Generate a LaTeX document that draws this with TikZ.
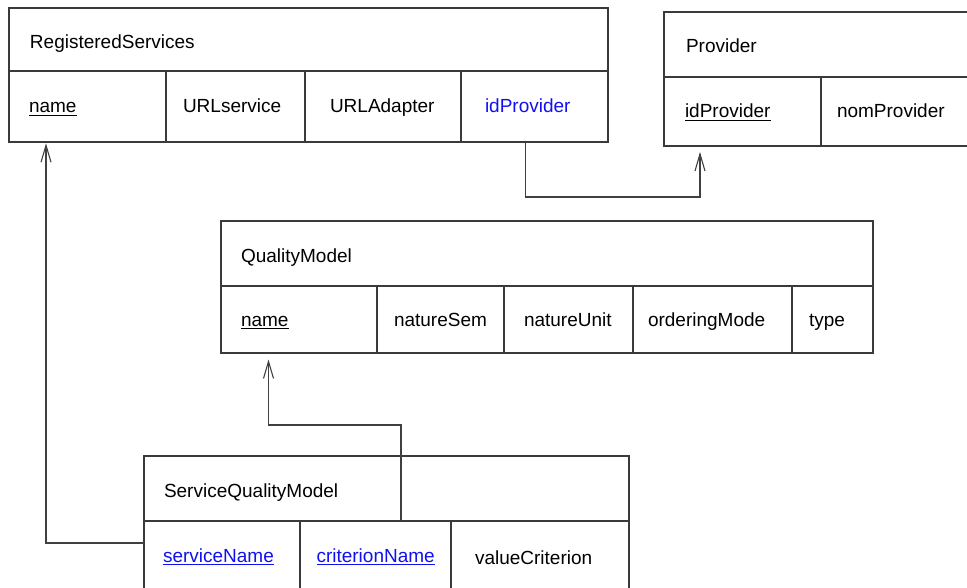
\documentclass[tikz,border=0pt]{standalone}
\usepackage{fontspec}
\setmainfont{Liberation Sans}
\usetikzlibrary{arrows.meta}
\definecolor{boxc}{HTML}{3A3A3A}
\definecolor{linec}{HTML}{404040}
\definecolor{keyblue}{HTML}{1010F0}
\begin{document}
\begin{tikzpicture}[x=1pt,y=-1pt,
  box/.style={draw=boxc, line width=1.3pt, rectangle, inner sep=0pt, outer sep=0pt, anchor=north west},
  lbl/.style={inner sep=0pt, outer sep=0pt, anchor=base west, font=\fontsize{19}{22}\selectfont},
  keylbl/.style={lbl, text=keyblue},
  conn/.style={draw=linec, line width=1.1pt},
  arr/.style={conn, -{Straight Barb[length=17pt,width=10pt,line width=1.1pt]}}]
\useasboundingbox (0,0) rectangle (967,588);
% RegisteredServices
\node[box, minimum width=599pt, minimum height=63pt] (rs) at (9,8) {};
\node[box, minimum width=157pt, minimum height=71pt] (rsName) at (9,71) {};
\node[box, minimum width=139pt, minimum height=71pt] (rsURLs) at (166,71) {};
\node[box, minimum width=156pt, minimum height=71pt] (rsURLa) at (305,71) {};
\node[box, minimum width=147pt, minimum height=71pt] (rsIdp) at (461,71) {};
\node[lbl] (rsT) at (30,49) {RegisteredServices};
\node[lbl] (rsNameT) at (29,113) {name};
\node[lbl] (rsURLsT) at (183,113) {URLservice};
\node[lbl] (rsURLaT) at (330,113) {URLAdapter};
\node[keylbl] (rsIdpT) at (485,113) {idProvider};
% Provider
\node[box, minimum width=320pt, minimum height=65pt] (pv) at (664,12) {};
\node[box, minimum width=157pt, minimum height=69pt] (pvId) at (664,77) {};
\node[box, minimum width=163pt, minimum height=69pt] (pvNom) at (821,77) {};
\node[lbl] (pvT) at (686,53) {Provider};
\node[lbl] (pvIdT) at (685,118) {idProvider\ };
\node[lbl] (pvNomT) at (837,118) {nomProvider};
% QualityModel
\node[box, minimum width=652pt, minimum height=65pt] (qm) at (221,221) {};
\node[box, minimum width=156pt, minimum height=67pt] (qmName) at (221,286) {};
\node[box, minimum width=127pt, minimum height=67pt] (qmSem) at (377,286) {};
\node[box, minimum width=129pt, minimum height=67pt] (qmUnit) at (504,286) {};
\node[box, minimum width=159pt, minimum height=67pt] (qmOrd) at (633,286) {};
\node[box, minimum width=81pt, minimum height=67pt] (qmType) at (792,286) {};
\node[lbl] (qmT) at (241,262) {QualityModel};
\node[lbl] (qmNameT) at (241,326) {name\ };
\node[lbl] (qmSemT) at (394,326) {natureSem};
\node[lbl] (qmUnitT) at (524,326) {natureUnit};
\node[lbl] (qmOrdT) at (648,326) {orderingMode};
\node[lbl] (qmTypeT) at (809,326) {type};
% ServiceQualityModel
\node[box, minimum width=485pt, minimum height=65pt] (sqm) at (144,456) {};
\node[box, minimum width=156pt, minimum height=70pt] (sqmSvc) at (144,521) {};
\node[box, minimum width=151pt, minimum height=70pt] (sqmCrit) at (300,521) {};
\node[box, minimum width=178pt, minimum height=70pt] (sqmVal) at (451,521) {};
\node[lbl] (sqmT) at (164,497) {ServiceQualityModel};
\node[keylbl] (sqmSvcT) at (163,562) {serviceName};
\node[keylbl] (sqmCritT) at (316.5,562) {criterionName\ };
\node[lbl] (sqmValT) at (475,564) {valueCriterion};
% underlines
\draw[black, line width=1.2pt] ([yshift=-2.5pt]rsNameT.base west) -- ([yshift=-2.5pt]rsNameT.base east);
\draw[black, line width=1.2pt] ([yshift=-2.5pt]pvIdT.base west) -- ([yshift=-2.5pt]pvIdT.base east);
\draw[black, line width=1.2pt] ([yshift=-2.5pt]qmNameT.base west) -- ([yshift=-2.5pt]qmNameT.base east);
\draw[keyblue, line width=1.2pt] ([yshift=-2.5pt]sqmSvcT.base west) -- ([yshift=-2.5pt]sqmSvcT.base east);
\draw[keyblue, line width=1.2pt] ([yshift=-2.5pt]sqmCritT.base west) -- ([yshift=-2.5pt]sqmCritT.base east);
% connectors
\draw[arr] ([xshift=-9pt]rsIdp.south) -- ++(0,55) -| ([xshift=-42.5pt,yshift=-6pt]pvId.south);
\draw[arr] ([xshift=257pt]sqm.south west) -- ++(0,-96) -| ([xshift=-30.5pt,yshift=-6.5pt]qmName.south);
\draw[arr] ([yshift=13pt]sqmSvc.west) -| ([xshift=-41.5pt,yshift=-1.3pt]rsName.south);
\end{tikzpicture}
\end{document}
